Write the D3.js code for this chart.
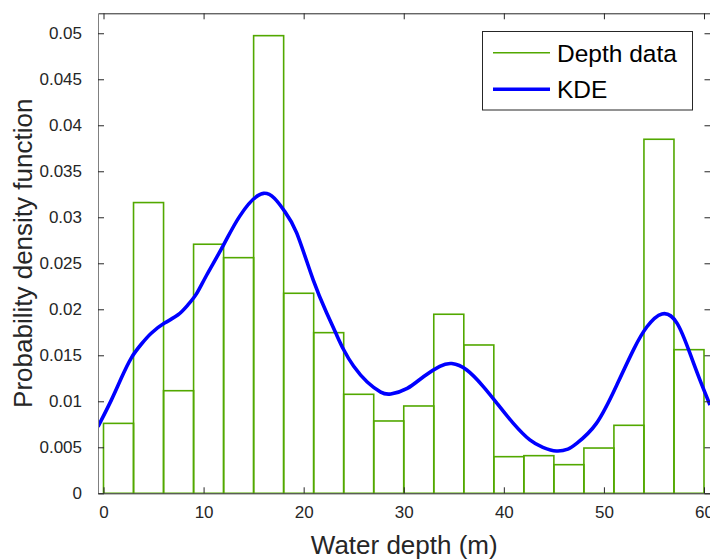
<!DOCTYPE html>
<html>
<head>
<meta charset="utf-8">
<script src="https://cdn.jsdelivr.net/npm/d3@7"></script>
<style>
  body { margin: 0; background: #fff; }
  text { font-family: "Liberation Sans", Arial, sans-serif; }
</style>
</head>
<body>
<div id="plot"></div>
<script>
// histogram bins (water depth, m) and densities
var binEdges = [0, 3, 6, 9, 12, 15, 18, 21, 24, 27, 30, 33, 36, 39, 42, 45, 48, 51, 54, 57, 60];
var binDensity = [0.0076, 0.0316, 0.01115, 0.02707, 0.02561, 0.04974, 0.02174, 0.01746, 0.01076, 0.00786,
                  0.00949, 0.01946, 0.01612, 0.00398, 0.00409, 0.00311, 0.00492, 0.00739, 0.03848, 0.01561];

// KDE curve
var kdeX = [-0.55, 0.77, 1.77, 2.77, 3.77, 4.77, 6.1, 7.45, 8.45, 9.3, 10.3, 12.0, 13.6, 16.0, 18.0, 19.3,
            20.95, 22.3, 23.3, 24.0, 25.0, 26.35, 27.7, 28.7, 30.35, 32.0, 33.6, 34.8, 36.3, 37.95, 39.3,
            40.95, 42.6, 43.9, 45.25, 46.4, 47.25, 49.25, 51.3, 53.0, 54.3, 55.8, 57.3, 58.6, 59.6, 60.6];
var kdeY = [0.00724, 0.0101, 0.0125, 0.0147, 0.0162, 0.0174, 0.0185, 0.0194, 0.0205, 0.0217, 0.0237, 0.0270,
            0.0301, 0.0326, 0.0308, 0.0283, 0.0232, 0.0196, 0.0172, 0.0156, 0.0138, 0.0121, 0.0110, 0.0108,
            0.0114, 0.0127, 0.0138, 0.0141, 0.0134, 0.0116, 0.0098, 0.0076, 0.0058, 0.0050, 0.0046, 0.0048,
            0.0054, 0.0076, 0.0118, 0.0157, 0.0181, 0.0195, 0.0185, 0.0152, 0.0123, 0.0096];

var xTicks = [0, 10, 20, 30, 40, 50, 60];
var yTicks = [0, 0.005, 0.01, 0.015, 0.02, 0.025, 0.03, 0.035, 0.04, 0.045, 0.05];

var W = 710, H = 559;
var box = {left: 98, right: 710.5, top: 13.3, bottom: 493.3};

var svg = d3.select("#plot")
  .append("svg")
    .attr("width", W)
    .attr("height", H);

var x = d3.scaleLinear()
    .domain([-0.55, 60.65])
    .range([box.left, box.right]);

var y = d3.scaleLinear()
    .domain([0, 0.05217])
    .range([box.bottom, box.top]);

svg.append("clipPath").attr("id", "clip")
  .append("rect")
    .attr("x", box.left).attr("y", box.top)
    .attr("width", box.right - box.left).attr("height", box.bottom - box.top);

var plot = svg.append("g").attr("clip-path", "url(#clip)");

// histogram bars
var bins = binDensity.map(function(v, i) { return {x0: binEdges[i], x1: binEdges[i + 1], v: v}; });
plot.selectAll("rect.bar")
  .data(bins)
  .enter()
  .append("rect")
    .attr("class", "bar")
    .attr("x", function(d) { return x(d.x0); })
    .attr("y", function(d) { return y(d.v); })
    .attr("width", function(d) { return x(d.x1) - x(d.x0); })
    .attr("height", function(d) { return y(0) - y(d.v); })
    .attr("fill", "none")
    .attr("stroke", "#52a800")
    .attr("stroke-width", 1.6);

// KDE
var kde = kdeX.map(function(v, i) { return [v, kdeY[i]]; });
plot.append("path")
  .datum(kde)
  .attr("fill", "none")
  .attr("stroke", "#0000ff")
  .attr("stroke-width", 3.6)
  .attr("d", d3.line()
    .x(function(d) { return x(d[0]); })
    .y(function(d) { return y(d[1]); })
    .curve(d3.curveNatural));

// axes (box with inward ticks)
var axisColor = "#262626";
var tickLen = 6;

function styleAxis(g) {
  g.select(".domain").attr("stroke", axisColor);
  g.selectAll(".tick line").attr("stroke", axisColor);
  g.selectAll(".tick text").attr("fill", axisColor).style("font-size", "17px")
    .style("font-family", "'Liberation Sans', Arial, sans-serif");
}

svg.append("g")
  .attr("transform", "translate(0," + box.bottom + ")")
  .call(d3.axisBottom(x).tickValues(xTicks).tickSizeInner(-tickLen).tickSizeOuter(0).tickPadding(13).tickFormat(d3.format("d")))
  .call(styleAxis);

svg.append("g")
  .attr("transform", "translate(0," + box.top + ")")
  .call(d3.axisTop(x).tickValues(xTicks).tickSizeInner(-tickLen).tickSizeOuter(0).tickFormat(""))
  .call(styleAxis);

svg.append("g")
  .attr("transform", "translate(" + box.left + ",0)")
  .call(d3.axisLeft(y).tickValues(yTicks).tickSizeInner(-tickLen).tickSizeOuter(0).tickPadding(16).tickFormat(d3.format("")))
  .call(styleAxis)
  .call(function(g) { g.select(".domain").attr("stroke", "#808080"); });

svg.append("g")
  .attr("transform", "translate(" + box.right + ",0)")
  .call(d3.axisRight(y).tickValues(yTicks).tickSizeInner(-tickLen).tickSizeOuter(0).tickFormat(""))
  .call(styleAxis);

// X label
svg.append("text")
  .attr("x", (box.left + box.right) / 2)
  .attr("y", 554)
  .attr("text-anchor", "middle")
  .attr("fill", axisColor)
  .style("font-size", "26px")
  .text("Water depth (m)");

// Y label
svg.append("text")
  .attr("transform", "translate(32," + (box.top + box.bottom) / 2 + ") rotate(-90)")
  .attr("text-anchor", "middle")
  .attr("fill", axisColor)
  .style("font-size", "26px")
  .text("Probability density function");

// legend
var legend = svg.append("g");
legend.append("rect")
  .attr("x", 482.5).attr("y", 31.5)
  .attr("width", 210).attr("height", 78.5)
  .attr("fill", "#fff")
  .attr("stroke", axisColor)
  .attr("stroke-width", 1);

var legendItems = [
  {label: "Depth data", color: "#52a800", width: 1.6},
  {label: "KDE", color: "#0000ff", width: 3.6}
];
legend.selectAll("line.item")
  .data(legendItems)
  .enter()
  .append("line")
    .attr("x1", 493).attr("x2", 550)
    .attr("y1", function(d, i) { return 52.7 + i * 36.6; })
    .attr("y2", function(d, i) { return 52.7 + i * 36.6; })
    .attr("stroke", function(d) { return d.color; })
    .attr("stroke-width", function(d) { return d.width; });
legend.selectAll("text.item")
  .data(legendItems)
  .enter()
  .append("text")
    .attr("x", 557)
    .attr("y", function(d, i) { return 61.5 + i * 36.6; })
    .attr("fill", "#000")
    .style("font-size", "24.5px")
    .text(function(d) { return d.label; });
</script>
</body>
</html>
